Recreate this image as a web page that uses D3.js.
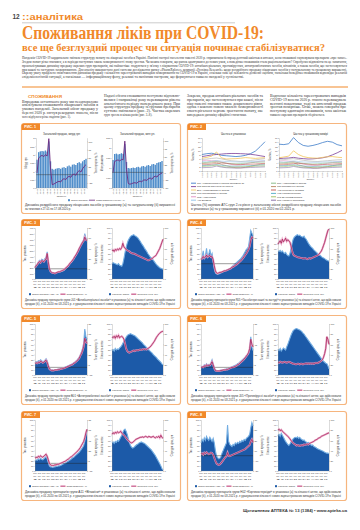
<!DOCTYPE html>
<html><head><meta charset="utf-8">
<script src="https://cdn.jsdelivr.net/npm/d3@7/dist/d3.min.js"></script>
<style>html,body{margin:0;padding:0;background:#fff;}svg{display:block}</style>
</head><body>
<svg id="page" width="360" height="530" viewBox="0 0 360 530"></svg>
<script>
// ================= DATA =================
const pageNumber = "12";
const rubric = "::аналітика";
const titleMain = "Споживання ліків при COVID-19:";
const titleSub = "все ще безглуздий процес чи ситуація починає стабілізуватися?";
const introLines = [
 "Пандемія COVID-19 кардинально змінила структуру попиту на лікарські засоби в Україні. Панічні настрої населення навесні 2020 р. спричинили безпрецедентний ажіотаж в аптеках, коли споживачі скуповували препарати «про запас».",
 "Згодом попит різко знизився, а в періоди наступних хвиль захворюваності знову зростав. Чи можна говорити, що ринок адаптувався до нових умов, а поведінка споживачів стала раціональнішою? Спробуємо відповісти на це запитання,",
 "проаналізувавши динаміку продажу окремих груп препаратів, які найчастіше згадуються у зв'язку з лікуванням COVID-19: антибактеріальних, противірусних, антитромботичних засобів, вітамінів, а також засобів, що застосовуються",
 "при кашлі та застудних захворюваннях. Для аналізу використано дані системи дослідження ринку «PharmXplorer» компанії «Proxima Research» щодо роздрібного продажу лікарських засобів у натуральному та грошовому вираженні.",
 "Окрему увагу приділено співставленню динаміки продажу з кількістю зареєстрованих випадків захворювання на COVID-19 в Україні, оскільки саме ця залежність дозволяє оцінити, наскільки поведінка споживачів відповідає реальній",
 "епідеміологічній ситуації, а наскільки — інформаційному фону, рекламі та панічним настроям, що формуються навколо пандемії у суспільстві."
];
const sectionHead = "СПОЖИВАННЯ";
const bodyCol1 = ["Впродовж останнього року ми неодноразово","аналізували споживання лікарських засобів в","умовах пандемії. Загальний обсяг продажу у","березні 2020 р. сягнув рекордних значень, після","чого відбулося різке падіння (рис. 1)."];
const bodyCol2 = ["Надалі обсяги споживання поступово відновлю-","валися і наприкінці року перевищили рівень","аналогічного періоду попереднього року. При","цьому структура продажу за групами препаратів","суттєво змінилася (рис. 2). Частка окремих","груп зросла в кілька разів (рис. 3–8)."];
const bodyCol3 = ["Зокрема, продаж антибактеріальних засобів та","препаратів, що застосовуються при кашлі, після","піку навесні знизився нижче докризового рівня,","однак з кожною новою хвилею захворюваності","спостерігалося чергове зростання попиту, яке","випереджало динаміку офіційної статистики."];
const bodyCol4 = ["Водночас кількість зареєстрованих випадків","COVID-19 восени 2020 р. значно перевищувала","весняні показники, тоді як аптечний продаж","зростав помірніше. Отже, можна говорити про","поступову адаптацію споживачів, хоча ажіотаж","навколо окремих препаратів зберігається."];
const footerText = "Щотижневик АПТЕКА № 13 (1384) • www.apteka.ua";

// ---- Fig 1 (weekly bars + growth line) ----
const fig1Weeks = ["27.01","03.02","10.02","17.02","24.02","02.03","09.03","16.03","23.03","30.03","06.04","13.04","20.04","27.04","04.05","11.05","18.05","25.05","01.06","08.06","15.06","22.06","29.06","06.07","13.07","20.07","27.07","03.08","10.08","17.08"];
const fig1LeftBars = [1.70,2.15,2.20,2.22,2.20,2.25,2.18,2.80,1.60,1.15,1.10,1.15,1.18,1.20,1.15,1.22,1.25,1.20,1.30,1.35,1.28,1.40,1.42,1.38,1.50,1.55,1.48,1.60,1.68,1.75];
const fig1LeftLine = [5,50,55,58,54,60,56,108,20,-30,-28,-25,-22,-20,-22,-15,-12,-15,-8,-5,-8,0,2,-2,8,12,8,18,25,30];
const fig1RightBars = [1.40,1.70,1.72,1.68,1.70,1.74,1.70,2.20,1.30,1.00,0.98,1.00,1.02,1.00,1.04,1.06,1.02,1.08,1.10,1.06,1.12,1.15,1.10,1.18,1.20,1.16,1.25,1.28,1.30,1.35];
const fig1RightLine = [0,35,38,40,36,42,40,100,10,-35,-38,-36,-34,-33,-35,-30,-28,-30,-25,-24,-26,-20,-18,-22,-15,-12,-15,-8,-5,-2];
const fig1LeftTicks = [0,0.5,1,1.5,2,2.5,3];
const fig1LeftLineTicks = [-25,0,25,50,75,100];
const fig1RightTicks = [0,0.5,1,1.5,2,2.5];
const fig1RightLineTicks = [-50,-25,0,25,50,75,100];
const fig1Titles = ["Загальний продаж, млрд грн","Загальний продаж, млн уп."];

// ---- Fig 2 (shares of ATC groups, monthly) ----
const fig2Months = ["01.20","02.20","03.20","04.20","05.20","06.20","07.20","08.20","09.20","10.20","11.20","12.20","01.21","02.21"];
const fig2Names = ["J01 Антибактеріальні засоби системної дії","R05 Засоби при кашлі та застуді","B01 Антитромботичні засоби","M01 Протизапальні засоби","N02 Анальгетики","A11 Вітаміни","R06 Антигістамінні засоби","J05 Противірусні засоби","A12 Мінеральні добавки","H02 Кортикостероїди","L03 Імуностимулятори","R01 Назальні препарати"];
const fig2Colors = ["#3d7cc9","#7b3f98","#f3c55a","#a6a6a6","#e28bbf","#8fc1e8","#7fb77e","#b5835a","#c0504d","#4bacc6","#9bbb59","#8064a2"];
const fig2L1 = [8.0,8.4,8.6,8.2,7.6,7.4,7.2,7.0,7.2,7.6,8.4,9.6,11.8,14.2];
const fig2L2 = [7.0,7.4,7.8,8.0,8.2,8.4,8.5,8.5,8.4,8.3,8.1,7.8,7.4,7.0];
const fig2L3 = [6.2,6.6,7.2,9.2,6.4,5.8,5.9,6.0,6.2,6.5,6.3,6.1,6.3,6.4];
const fig2L4 = [5.6,5.8,6.1,6.3,5.9,5.4,5.0,4.8,4.6,4.8,5.1,5.4,5.7,6.0];
const fig2L5 = [5.0,5.2,5.0,4.9,4.4,3.8,3.2,2.8,3.0,3.5,4.0,4.4,4.7,4.9];
const fig2L6 = [4.6,4.4,4.7,5.1,4.8,4.6,4.5,4.4,4.3,4.4,4.6,4.7,4.9,5.0];
const fig2L7 = [4.0,4.2,4.4,4.6,4.2,3.8,3.6,3.5,3.6,3.8,4.0,4.2,4.3,4.4];
const fig2L8 = [3.6,3.7,3.9,4.2,3.2,2.6,2.0,1.6,1.5,1.8,2.3,2.8,3.2,3.4];
const fig2L9 = [3.0,3.1,3.3,3.6,3.9,3.7,3.4,3.2,3.1,3.2,3.3,3.4,3.6,3.7];
const fig2L10 = [2.6,2.7,2.8,3.1,2.8,2.5,2.4,2.3,2.4,2.5,2.6,2.7,2.9,3.0];
const fig2L11 = [2.2,2.3,2.5,2.9,2.2,1.9,1.8,1.9,2.0,2.1,2.2,2.3,2.4,2.5];
const fig2L12 = [1.6,1.7,1.8,2.4,1.9,1.6,1.5,1.4,1.5,1.6,1.7,1.8,1.9,2.0];
const fig2R1 = [13.0,12.8,13.2,16.2,13.8,12.4,12.0,12.4,13.0,13.8,14.4,14.0,12.8,12.2];
const fig2R2 = [6.0,6.2,6.3,6.6,6.2,6.0,5.8,5.9,6.1,6.4,6.9,7.8,8.8,10.0];
const fig2R3 = [6.4,6.8,7.2,9.8,8.0,7.0,6.5,6.3,6.2,6.6,6.9,7.0,6.7,6.5];
const fig2R4 = [5.4,5.5,5.8,6.0,5.6,5.2,4.9,4.7,4.6,4.8,5.0,5.2,5.4,5.5];
const fig2R5 = [4.8,5.0,4.8,4.6,4.0,3.4,2.9,2.6,2.8,3.2,3.7,4.1,4.4,4.6];
const fig2R6 = [4.4,4.3,4.5,4.9,4.6,4.4,4.3,4.2,4.2,4.3,4.4,4.5,4.6,4.7];
const fig2R7 = [3.9,4.0,4.2,4.4,4.0,3.7,3.5,3.4,3.5,3.7,3.9,4.0,4.1,4.2];
const fig2R8 = [3.4,3.5,3.7,4.0,3.0,2.4,1.9,1.5,1.4,1.7,2.1,2.6,3.0,3.2];
const fig2R9 = [2.9,3.0,3.2,3.5,3.7,3.5,3.3,3.1,3.0,3.1,3.2,3.3,3.5,3.6];
const fig2R10 = [2.5,2.6,2.7,3.0,2.7,2.4,2.3,2.2,2.3,2.4,2.5,2.6,2.8,2.9];
const fig2R11 = [2.0,2.1,2.3,2.7,2.1,1.8,1.7,1.8,1.9,2.0,2.1,2.2,2.3,2.4];
const fig2R12 = [1.5,1.6,1.7,2.2,1.8,1.5,1.4,1.3,1.4,1.5,1.6,1.7,1.8,1.9];
const fig2Ticks = [0,2,4,6,8,10,12,14,16];
const fig2Titles = ["Частка в упаковках","Частка у грошовому вимірі"];

// ---- Figs 3–8 (weekly area + line) ----
const areaTickIdx = [0,4,8,12,16,20,24,28,32,36,40,44];
const areaTickYear = ["2020","2020","2020","2020","2020","2020","2020","2020","2020","2020","2021","2021"];
const areaTickWeek = ["2","7","12","18","23","28","34","39","44","50","3","8"];
const ticks0to100 = [0,10,20,30,40,50,60,70,80,90,100];
const lineTicks0to100 = [0,20,40,60,80,100];

const f3LA = [210,240,260,300,330,310,350,340,320,360,380,480,300,190,140,120,110,105,100,110,115,120,125,130,135,140,150,170,190,210,230,260,280,300,330,360,390,420,460,500,540,580,620,650,700,800,720,690];
const f3LL = [2,6,8,12,14,12,16,15,14,17,19,30,14,0,-5,-7,-8,-8,-9,-8,-7,-6,-6,-5,-4,-3,-2,0,2,4,6,9,12,14,17,20,24,27,31,35,40,44,48,52,55,62,57,55];
const f3RA = [30,32,31,30,29,28,30,27,26,25,30,40,52,62,70,76,80,83,85,86,87,85,84,82,80,77,74,70,67,64,60,57,54,50,47,44,42,40,37,34,31,28,26,24,22,21,20,19];
const f3RL = [55,57,54,58,56,59,57,60,58,62,70,63,60,58,56,55,54,52,51,50,50,49,48,47,46,45,44,43,42,41,40,39,38,37,37,38,39,40,42,44,45,48,52,56,60,66,72,78];
const f3LTicks = [0,100,200,300,400,500,600,700,800,900];
const f3LLineTicks = [-20,0,20,40,60,80];

const f4LA = [38,42,55,40,45,60,42,48,58,45,50,35,20,12,10,9,10,11,12,13,14,15,16,17,18,19,20,22,24,26,28,30,32,34,36,38,40,43,46,50,54,58,60,64,80,95,90,85];
const f4LL = [8,10,14,11,13,17,13,15,16,13,14,8,-4,-14,-18,-19,-18,-17,-17,-16,-15,-14,-14,-13,-12,-11,-10,-9,-7,-6,-5,-3,-2,0,2,4,6,8,11,14,17,20,24,28,34,46,52,50];
const f4RA = [55,54,56,53,55,52,50,52,48,46,45,50,60,70,78,82,84,86,87,85,86,84,83,82,84,80,78,74,70,67,64,62,60,57,55,53,51,49,47,46,44,42,41,40,38,37,36,35];
const f4RL = [68,72,75,70,78,73,76,80,74,77,75,72,65,55,48,46,45,44,43,42,42,41,41,40,40,41,40,39,40,41,40,41,42,43,44,45,46,47,49,52,55,60,66,72,80,88,95,98];
const f4LLineTicks = [-30,-10,10,30,50,70];

const f5LA = [24,26,25,28,27,30,28,26,27,29,32,28,20,14,11,10,10,9,10,10,11,11,12,12,13,13,14,15,16,17,18,19,20,21,22,24,25,27,29,32,35,40,45,52,62,90,75,70];
const f5LL = [7,9,8,10,9,12,11,9,10,12,14,10,3,-3,-5,-6,-6,-6,-5,-5,-5,-4,-4,-3,-3,-2,-2,-1,0,1,2,3,4,5,6,8,9,11,13,15,18,23,27,33,41,57,50,47];
const f5RA = [48,50,47,52,49,51,50,53,55,58,62,66,70,74,77,79,80,81,80,79,78,77,75,73,71,69,67,65,63,60,58,56,53,51,49,47,45,43,40,38,36,34,31,29,27,25,22,20];
const f5RL = [75,73,76,72,77,74,78,73,75,76,74,70,62,52,47,45,44,45,46,47,48,47,48,49,48,49,50,49,50,51,50,51,50,52,53,55,57,60,63,66,70,74,77,80,82,84,85,86];
const f5LLineTicks = [-15,5,25,45,65,85];

const f6LA = [15,17,16,20,18,22,19,21,20,24,30,22,14,10,9,8,8,9,9,10,10,11,11,12,12,13,14,15,16,17,18,19,20,22,23,25,27,29,31,33,35,38,40,42,50,75,55,48];
const f6LL = [-1,1,0,3,2,5,3,4,4,7,11,5,-2,-6,-7,-7,-7,-7,-6,-6,-5,-5,-5,-4,-4,-3,-2,-1,0,0,1,2,3,5,6,8,10,12,14,16,19,22,25,29,37,55,45,40];
const f6RA = [50,48,52,47,50,53,51,49,55,60,66,72,78,83,87,89,90,91,90,89,88,87,85,82,80,77,74,71,68,65,62,59,56,53,50,47,44,41,38,35,32,29,27,25,23,22,18,12];
const f6RL = [25,24,26,25,24,25,26,25,24,25,26,25,24,23,22,22,21,21,22,22,21,22,22,21,22,22,23,22,23,22,23,22,23,22,23,24,23,24,25,26,28,30,35,42,52,75,70,60];
const f6LLineTicks = [-15,5,25,45,65,85];

const f7LA = [20,22,21,24,22,25,23,22,24,26,28,24,16,10,8,8,7,8,8,9,9,10,10,11,12,13,14,15,16,18,19,21,22,24,26,27,29,31,33,35,37,40,43,46,50,58,70,80];
const f7LL = [10,12,11,14,12,15,13,12,14,16,18,14,7,0,-3,-4,-4,-4,-3,-3,-2,-2,-1,0,1,2,3,4,5,7,8,10,12,13,15,17,19,21,23,25,28,31,35,39,43,50,60,67];
const f7RA = [55,57,54,58,56,60,58,62,66,70,76,80,82,78,72,64,56,50,47,45,46,48,50,52,53,55,56,57,56,55,54,52,50,48,46,44,42,39,36,33,30,26,22,18,14,10,5,2];
const f7RL = [72,75,73,76,74,77,75,76,78,74,72,70,68,65,62,60,58,56,55,56,58,60,62,63,64,65,66,66,67,66,67,68,67,66,68,67,66,67,68,66,65,67,66,68,65,70,66,64];
const f7LLineTicks = [-15,5,25,45,65,85];

const f8LA = [55,62,58,65,60,68,63,60,66,62,58,64,55,40,30,26,24,25,28,35,40,45,50,55,90,58,52,50,48,52,50,55,53,56,54,58,56,60,58,62,60,64,66,68,72,85,95,88];
const f8LL = [3,5,2,6,4,7,5,3,4,6,5,2,-4,-10,-15,-17,-18,-17,-15,-12,-9,-6,-3,-1,6,0,-1,0,1,2,3,4,5,6,7,8,9,10,11,12,13,15,17,19,21,28,32,26];
const f8RA = [70,72,68,74,70,66,62,58,55,52,50,53,57,60,63,65,66,65,67,64,66,63,62,60,61,58,57,55,56,54,52,50,51,48,47,46,44,43,42,41,40,39,38,37,36,35,35,34];
const f8RL = [80,82,79,81,78,76,74,72,70,68,66,63,60,57,55,53,52,50,51,50,49,50,51,50,52,51,52,53,52,54,55,56,57,58,60,61,62,64,65,66,68,69,70,71,72,73,74,75];
const f8LLineTicks = [-30,-10,10,30,50,70];

const figGroups = ["J01 «Антибактеріальні засоби»","R05 «Засоби при кашлі та застуді»","B01 «Антитромботичні засоби»","J05 «Противірусні засоби»","A11 «Вітаміни»","H02 «Кортикостероїди»"];

// ================= DRAWING =================
const ORANGE = "#f1892a", BORDER = "#f6b57e", NAVY = "#1c5aa8", LIGHT = "#74aee2",
      CRIMSON = "#a0184f", PINK = "#e9a0c4", BAR = "#4f8dca", PURPLE = "#6e2a80";
const SANS = "Liberation Sans, Arial, sans-serif", SERIF = "Liberation Serif, Times New Roman, serif";
const svg = d3.select("#page");
svg.append("rect").attr("width",360).attr("height",530).attr("fill","#fff");

function txt(g,x,y,s,o={}) {
  const t = g.append("text").attr("x",x).attr("y",y).text(s)
    .attr("font-size",o.size||3).attr("fill",o.fill||"#333").attr("font-family",o.family||SANS);
  if (o.anchor) t.attr("text-anchor",o.anchor);
  if (o.weight) t.attr("font-weight",o.weight);
  if (o.len) t.attr("textLength",o.len).attr("lengthAdjust","spacingAndGlyphs");
  if (o.rotate) t.attr("transform",`rotate(${o.rotate},${x},${y})`);
  return t;
}
function styleAxis(sel) {
  sel.attr("font-size",null).attr("font-family",null);
  sel.selectAll("text").attr("font-size",2.3).attr("fill","#444").attr("font-family",SANS);
  sel.select(".domain").attr("stroke","#888").attr("stroke-width",0.3);
  sel.selectAll(".tick line").attr("stroke","#888").attr("stroke-width",0.3);
}
const commaFmt = d => (Number.isInteger(d) ? String(d) : d3.format(".2f")(d)).replace(".",",").replace("-","–");

// ---- header ----
txt(svg,12.5,19,pageNumber,{size:6.5,weight:"bold",fill:"#444"});
txt(svg,22,19.5,rubric,{size:8.2,weight:"bold",fill:ORANGE,len:61});
svg.append("line").attr("x1",22).attr("x2",235).attr("y1",22.8).attr("y2",22.8).attr("stroke","#999").attr("stroke-width",0.5);
txt(svg,22,38.5,titleMain,{size:18,weight:"bold",fill:ORANGE,family:SERIF,len:242});
txt(svg,22,51,titleSub,{size:11,weight:"bold",fill:ORANGE,family:SERIF,len:303});
introLines.forEach((l,i)=> txt(svg,22,59+i*3.85,l,{size:3.1,family:SERIF,fill:"#333",len: i<introLines.length-1 ? 325 : 222}));
svg.append("line").attr("x1",22).attr("x2",348).attr("y1",87).attr("y2",87).attr("stroke",ORANGE).attr("stroke-width",1.2);
txt(svg,28,98,sectionHead,{size:3.6,weight:"bold",fill:ORANGE,len:34});
function column(lines,x,y0){ lines.forEach((l,i)=> txt(svg,x,y0+i*3.8,l,{size:3.1,family:SERIF,fill:"#333",len: i<lines.length-1?76:null})); }
column(bodyCol1,22,102.5); column(bodyCol2,104,97); column(bodyCol3,187,97); column(bodyCol4,270,97);

// ---- boxes ----
function box(x,y,w,h,label){
  const g = svg.append("g").attr("transform",`translate(${x},${y})`);
  g.append("rect").attr("x",0.5).attr("y",0.5).attr("width",w-1).attr("height",h-1).attr("rx",2.5)
    .attr("fill","#fff").attr("stroke",BORDER).attr("stroke-width",1.2);
  g.append("path").attr("d","M0.5,7 L0.5,3 Q0.5,0.5 3,0.5 L19,0.5 L19,7 Z").attr("fill",ORANGE);
  txt(g,3.2,5.3,label,{size:3.6,weight:"bold",fill:"#fff",len:12});
  return g;
}
function caption(g,lines,y,lens){ lines.forEach((l,i)=> txt(g,4,y+i*3.5,l,{size:2.7,fill:"#333",len: lens[i]})); }

// ---- area + line panel ----
function areaPanel(g,o){
  const n = o.area.length;
  const x = d3.scaleLinear().domain([0,n-1]).range([o.x0,o.x1]);
  const ya = d3.scaleLinear().domain(o.aDom).range([o.y1,o.y0]);
  const yl = d3.scaleLinear().domain(o.lDom).range([o.y1,o.y0]);
  g.append("path").datum(o.area).attr("fill",NAVY)
    .attr("d",d3.area().x((d,i)=>x(i)).y0(o.y1).y1(d=>ya(d)));
  g.append("path").datum(o.area).attr("fill","none").attr("stroke",LIGHT).attr("stroke-width",1.1)
    .attr("d",d3.line().x((d,i)=>x(i)).y(d=>ya(d)));
  if (o.zero) g.append("line").attr("x1",o.x0).attr("x2",o.x1).attr("y1",yl(0)).attr("y2",yl(0)).attr("stroke","#222").attr("stroke-width",0.45);
  const ln = d3.line().x((d,i)=>x(i)).y(d=>yl(d));
  g.append("path").datum(o.line).attr("fill","none").attr("stroke",PINK).attr("stroke-width",2).attr("stroke-opacity",0.85).attr("d",ln);
  g.append("path").datum(o.line).attr("fill","none").attr("stroke",CRIMSON).attr("stroke-width",0.7).attr("d",ln);
  styleAxis(g.append("g").attr("transform",`translate(${o.x0},0)`).call(d3.axisLeft(ya).tickValues(o.aTicks).tickSize(0.8).tickPadding(0.6).tickFormat(commaFmt)));
  styleAxis(g.append("g").attr("transform",`translate(${o.x1},0)`).call(d3.axisRight(yl).tickValues(o.lTicks).tickSize(0.8).tickPadding(0.6).tickFormat(commaFmt)));
  g.append("line").attr("x1",o.x0).attr("x2",o.x1).attr("y1",o.y1).attr("y2",o.y1).attr("stroke","#888").attr("stroke-width",0.3);
  areaTickIdx.forEach((ti,k)=>{
    [areaTickYear[k],"тиж.",areaTickWeek[k]].forEach((s,r)=> txt(g,x(ti),o.y1+3+r*3,s,{size:2.2,anchor:"middle",fill:"#555",len:3.6}));
  });
  const ym = (o.y0+o.y1)/2;
  txt(g,o.x0-9,ym,o.aTitle,{size:2.6,anchor:"middle",rotate:-90,fill:"#444"});
  txt(g,o.x1+10,ym,o.lTitle,{size:2.6,anchor:"middle",rotate:-90,fill:"#444"});
}
function areaLegend(g,x,y,a,b){
  g.append("rect").attr("x",x).attr("y",y-1.8).attr("width",2).attr("height",2).attr("fill",NAVY);
  txt(g,x+3,y,a,{size:2.5,fill:"#333"});
  const w = a.length*1.15 + 5;
  g.append("line").attr("x1",x+w).attr("x2",x+w+5).attr("y1",y-0.8).attr("y2",y-0.8).attr("stroke",PINK).attr("stroke-width",1.4);
  g.append("line").attr("x1",x+w).attr("x2",x+w+5).attr("y1",y-0.8).attr("y2",y-0.8).attr("stroke",CRIMSON).attr("stroke-width",0.5);
  txt(g,x+w+6,y,b,{size:2.5,fill:"#333"});
}
function areaFigure(bx,by,label,L,R,grp){
  const g = box(bx,by,160,90,label);
  areaPanel(g,{x0:14,x1:66,y0:9,y1:60,area:L.area,line:L.line,aDom:L.aDom,aTicks:L.aTicks,lDom:L.lDom,lTicks:L.lTicks,zero:true,aTitle:"Тис. упаковок",lTitle:"Темп приросту, %"});
  areaPanel(g,{x0:91,x1:142,y0:9,y1:60,area:R.area,line:R.line,aDom:[0,100],aTicks:ticks0to100,lDom:[0,100],lTicks:lineTicks0to100,zero:false,aTitle:"Кількість аптек",lTitle:"Середня ціна, грн"});
  areaLegend(g,8,76,"Обсяг продажу, тис. уп.","Темп приросту, %");
  areaLegend(g,88,76,"Кількість аптек","Середня ціна, грн");
  caption(g,["Динаміка продажу препаратів групи "+grp+" в упаковках (а) та кількості аптек, що здійснювали",
             "продаж (б), з 01.2020 по 03.2021 р. з урахуванням кількості нових зареєстрованих випадків COVID-19 в Україні"],82,[150,150]);
}

// ---- Fig 1 ----
function barPanel(g,o){
  const x = d3.scaleBand().domain(d3.range(o.bars.length)).range([o.x0,o.x1]).padding(0.18);
  const yb = d3.scaleLinear().domain(o.bDom).range([o.y1,o.y0]);
  const yl = d3.scaleLinear().domain(o.lDom).range([o.y1,o.y0]);
  g.selectAll(null).data(o.bars).enter().append("rect")
    .attr("x",(d,i)=>x(i)).attr("width",x.bandwidth()).attr("y",d=>yb(d)).attr("height",d=>o.y1-yb(d)).attr("fill",BAR);
  g.append("line").attr("x1",o.x0).attr("x2",o.x1).attr("y1",yl(0)).attr("y2",yl(0)).attr("stroke","#333").attr("stroke-width",0.45);
  g.append("path").datum(o.line).attr("fill","none").attr("stroke",PURPLE).attr("stroke-width",0.9)
    .attr("d",d3.line().x((d,i)=>x(i)+x.bandwidth()/2).y(d=>yl(d)));
  styleAxis(g.append("g").attr("transform",`translate(${o.x0},0)`).call(d3.axisLeft(yb).tickValues(o.bTicks).tickSize(0.8).tickPadding(0.6).tickFormat(commaFmt)));
  styleAxis(g.append("g").attr("transform",`translate(${o.x1},0)`).call(d3.axisRight(yl).tickValues(o.lTicks).tickSize(0.8).tickPadding(0.6).tickFormat(commaFmt)));
  g.append("line").attr("x1",o.x0).attr("x2",o.x1).attr("y1",o.y1).attr("y2",o.y1).attr("stroke","#888").attr("stroke-width",0.3);
  fig1Weeks.forEach((w,i)=>{ if(i%2===0) txt(g,x(i)+x.bandwidth()/2+0.7,o.y1+1,w,{size:2.1,anchor:"end",rotate:-90,fill:"#555"}); });
  txt(g,(o.x0+o.x1)/2,o.y1+9,"тиждень",{size:2.5,anchor:"middle",fill:"#444"});
  txt(g,(o.x0+o.x1)/2,o.y0-3,o.title,{size:2.8,anchor:"middle",fill:"#333"});
  const ym=(o.y0+o.y1)/2;
  txt(g,o.x0-9,ym,o.bTitle,{size:2.6,anchor:"middle",rotate:-90,fill:"#444"});
  txt(g,o.x1+10,ym,"Темп приросту, %",{size:2.6,anchor:"middle",rotate:-90,fill:"#444"});
}
{
  const g = box(21,123,160,91,"РИС. 1");
  barPanel(g,{x0:15,x1:66,y0:15,y1:65,bars:fig1LeftBars,line:fig1LeftLine,bDom:[0,3],bTicks:fig1LeftTicks,lDom:[-40,110],lTicks:fig1LeftLineTicks,title:fig1Titles[0],bTitle:"Млрд грн"});
  barPanel(g,{x0:91,x1:142,y0:15,y1:65,bars:fig1RightBars,line:fig1RightLine,bDom:[0,2.5],bTicks:fig1RightTicks,lDom:[-50,110],lTicks:fig1RightLineTicks,title:fig1Titles[1],bTitle:"Млн упаковок"});
  g.append("rect").attr("x",47).attr("y",76.2).attr("width",2).attr("height",2).attr("fill",BAR);
  txt(g,50,78,"Обсяг продажу",{size:2.5});
  g.append("line").attr("x1",68).attr("x2",74).attr("y1",77.2).attr("y2",77.2).attr("stroke",PURPLE).attr("stroke-width",0.8);
  txt(g,75,78,"Темп приросту/убутку, %",{size:2.5});
  caption(g,["Динаміка роздрібного продажу лікарських засобів у грошовому (а) та натуральному (б) вираженні","за тижнями з 27.01 по 17.08.2020 р."],83,[150,46]);
}

// ---- Fig 2 ----
function linesPanel(g,o){
  const x = d3.scaleLinear().domain([0,fig2Months.length-1]).range([o.x0,o.x1]);
  const y = d3.scaleLinear().domain([0,16]).range([o.y1,o.y0]);
  const ln = d3.line().x((d,i)=>x(i)).y(d=>y(d));
  o.series.forEach((s,k)=> g.append("path").datum(s).attr("fill","none").attr("stroke",fig2Colors[k]).attr("stroke-width",k<3?0.8:0.55).attr("d",ln));
  styleAxis(g.append("g").attr("transform",`translate(${o.x0},0)`).call(d3.axisLeft(y).tickValues(fig2Ticks).tickSize(0.8).tickPadding(0.6)));
  styleAxis(g.append("g").attr("transform",`translate(0,${o.y1})`).call(d3.axisBottom(x).tickValues(d3.range(fig2Months.length)).tickSize(0.8).tickFormat(()=>"")));
  fig2Months.forEach((m,i)=> txt(g,x(i)+0.7,o.y1+1.5,m,{size:2.1,anchor:"end",rotate:-90,fill:"#555"}));
  txt(g,(o.x0+o.x1)/2,o.y1+8.5,"місяць",{size:2.5,anchor:"middle",fill:"#444"});
  txt(g,(o.x0+o.x1)/2,o.y0-3,o.title,{size:2.8,anchor:"middle",fill:"#333"});
  txt(g,o.x0-8,(o.y0+o.y1)/2,"Частка, %",{size:2.6,anchor:"middle",rotate:-90,fill:"#444"});
}
{
  const g = box(187,123,160,91,"РИС. 2");
  linesPanel(g,{x0:15,x1:78,y0:15,y1:48,title:fig2Titles[0],series:[fig2L1,fig2L2,fig2L3,fig2L4,fig2L5,fig2L6,fig2L7,fig2L8,fig2L9,fig2L10,fig2L11,fig2L12]});
  linesPanel(g,{x0:92,x1:155,y0:15,y1:48,title:fig2Titles[1],series:[fig2R1,fig2R2,fig2R3,fig2R4,fig2R5,fig2R6,fig2R7,fig2R8,fig2R9,fig2R10,fig2R11,fig2R12]});
  fig2Names.forEach((nm,k)=>{
    const col = k<6?0:1, row = k%6;
    const lx = col===0?4:84, ly = 61+row*3.4;
    g.append("line").attr("x1",lx).attr("x2",lx+5).attr("y1",ly-0.8).attr("y2",ly-0.8).attr("stroke",fig2Colors[k]).attr("stroke-width",0.9);
    txt(g,lx+6,ly,nm,{size:2.4,fill:"#333"});
  });
  caption(g,["Частка (%) окремих АТС-груп 2-го рівня у загальному обсязі роздрібного продажу лікарських засобів","в упаковках (а) та у грошовому вираженні (б) з 01.2020 по 02.2021 р."],83,[150,104]);
}

// ---- Figs 3–8 ----
areaFigure(21,219,"РИС. 3",{area:f3LA,line:f3LL,aDom:[0,900],aTicks:f3LTicks,lDom:[-20,80],lTicks:f3LLineTicks},{area:f3RA,line:f3RL},figGroups[0]);
areaFigure(187,219,"РИС. 4",{area:f4LA,line:f4LL,aDom:[0,100],aTicks:ticks0to100,lDom:[-30,70],lTicks:f4LLineTicks},{area:f4RA,line:f4RL},figGroups[1]);
areaFigure(21,315,"РИС. 5",{area:f5LA,line:f5LL,aDom:[0,100],aTicks:ticks0to100,lDom:[-15,85],lTicks:f5LLineTicks},{area:f5RA,line:f5RL},figGroups[2]);
areaFigure(187,315,"РИС. 6",{area:f6LA,line:f6LL,aDom:[0,100],aTicks:ticks0to100,lDom:[-15,85],lTicks:f6LLineTicks},{area:f6RA,line:f6RL},figGroups[3]);
areaFigure(21,411,"РИС. 7",{area:f7LA,line:f7LL,aDom:[0,100],aTicks:ticks0to100,lDom:[-15,85],lTicks:f7LLineTicks},{area:f7RA,line:f7RL},figGroups[4]);
areaFigure(187,411,"РИС. 8",{area:f8LA,line:f8LL,aDom:[0,100],aTicks:ticks0to100,lDom:[-30,70],lTicks:f8LLineTicks},{area:f8RA,line:f8RL},figGroups[5]);

// ---- footer ----
txt(svg,347,512,footerText,{size:3.6,anchor:"end",fill:"#333",weight:"bold",len:104});
</script></body></html>
